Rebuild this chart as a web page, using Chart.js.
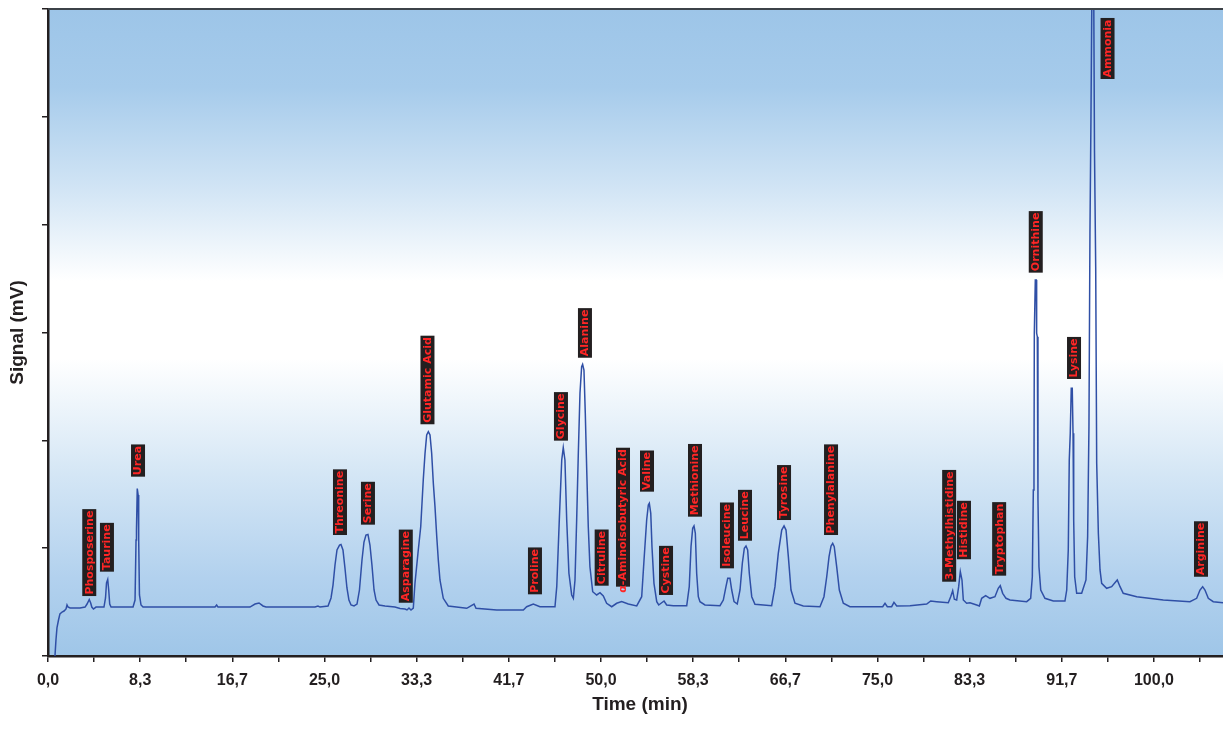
<!DOCTYPE html>
<html>
<head>
<meta charset="utf-8">
<script src="https://cdn.jsdelivr.net/npm/chart.js@4.4.1/dist/chart.umd.min.js"></script>
<style>
html,body{margin:0;padding:0;background:#ffffff;}
#wrap{width:1223px;height:742px;}
</style>
</head>
<body>
<div id="wrap"><canvas id="c" width="1223" height="742"></canvas></div>
<script>
// Retention time (min) and detector signal (arbitrary mV units)
const timeMin = [0.63,0.72,0.81,0.95,1.08,1.27,1.45,1.63,1.72,1.81,2.0,2.89,3.35,3.53,3.73,3.86,3.96,4.11,4.34,5.06,5.2,5.29,5.4,5.49,5.58,5.7,7.69,7.87,7.96,8.0,8.07,8.15,8.2,8.27,8.41,8.59,15.1,15.25,15.37,18.26,18.72,19.08,19.44,19.71,24.14,24.41,24.6,25.32,25.59,25.77,25.95,26.13,26.36,26.49,26.67,26.85,27.03,27.21,27.4,27.67,27.94,28.16,28.39,28.57,28.75,28.93,29.11,29.29,29.48,29.66,29.93,30.47,31.37,31.83,32.28,32.46,32.64,32.82,33.03,33.18,33.48,33.7,33.93,34.09,34.24,34.39,34.54,34.69,34.84,34.99,35.15,35.29,35.44,35.74,36.19,37.86,38.52,38.7,40.57,42.98,43.28,43.88,44.48,45.84,46.0,46.23,46.45,46.59,46.74,46.9,47.1,47.35,47.5,47.65,47.8,47.95,48.1,48.25,48.34,48.46,48.58,48.71,48.85,49.0,49.25,49.61,49.91,50.21,50.51,50.97,51.42,51.87,52.47,53.23,53.68,53.89,54.13,54.28,54.37,54.5,54.61,54.79,55.04,55.22,55.7,55.94,56.54,57.75,57.98,58.14,58.29,58.41,58.53,58.65,58.8,58.95,59.4,60.76,61.06,61.3,61.46,61.66,61.82,62.03,62.32,62.57,62.78,62.96,63.11,63.26,63.41,63.63,63.92,65.43,65.73,66.03,66.34,66.55,66.73,66.94,67.18,67.54,68.29,69.8,70.16,70.41,70.62,70.8,70.95,71.09,71.31,71.55,71.91,72.51,75.47,75.68,75.89,76.28,76.49,76.74,77.94,79.45,79.81,80.35,81.4,81.62,81.8,81.95,82.16,82.34,82.49,82.64,82.76,83.06,83.36,83.97,84.21,84.42,84.78,85.17,85.62,85.92,86.1,86.32,86.62,86.98,88.49,88.85,89.0,89.09,89.15,89.18,89.27,89.36,89.39,89.45,89.51,89.6,89.76,90.14,90.9,91.95,92.11,92.25,92.34,92.43,92.52,92.61,92.68,92.74,92.83,93.01,93.46,93.85,94.0,94.12,94.21,94.3,94.42,94.53,94.62,94.73,94.82,94.97,95.12,95.27,95.72,96.17,96.68,96.93,97.22,98.44,100.84,103.25,103.86,104.16,104.4,104.61,104.91,105.36,106.24];
const signal = [0,14.8,26,33.4,39,40.8,41.7,43.6,47.3,45.4,44.5,44.5,45.4,48.2,52.4,49.2,45.4,43.6,45.4,45.4,53.8,67.7,70.9,61.2,48.2,45.4,45.4,51.9,107.6,116.8,155.3,149.3,107.6,56.6,47.3,45.4,45.4,47.3,45.4,45.4,48.2,49.2,46.4,45.4,45.4,46.4,45.4,46.4,53.8,65.8,84.4,98.3,102.9,103.4,98.3,81.6,63.1,51.9,47.3,46.4,48.2,61.2,89,105.7,112.2,112.7,102.9,84.4,61.2,51.9,47.3,46.4,45.4,44,43.6,42.7,44.5,42.7,44.5,67.4,98.3,119.9,163.2,188,205,208,205,188,160.2,138.5,110.6,89,70.5,53.5,46.4,44.2,48.2,44.2,42.7,42.7,45.7,48.2,45.7,45.7,64.3,126.1,181.8,193.2,181.8,126.1,76.7,56.6,53.5,70.5,126.1,188,243.6,268.3,270.5,265.2,225.1,172.5,119.9,82.8,59.6,56.6,58.7,55.6,48.9,45.7,48.9,50.4,48.2,46.4,55,89,126.1,140,141.6,132.3,101.4,67.4,50.4,47.3,51,47.3,46.6,46.6,64.3,101.4,118.4,120.6,113.8,76.7,55,50.4,47.3,46.6,51.9,64.3,72,72,61.2,50.4,48.2,61.2,86,99.9,102,98.3,76.7,55,47.9,46.6,64.3,95.2,116.8,120.6,116.8,92.1,61.2,48.9,46.4,45.7,55,73.5,92.1,102,104.5,101.4,82.8,61.2,48.9,45.7,45.7,48.9,45.7,45.7,49.8,46.4,46.6,48.2,51,50.4,49.4,55,60.6,52.6,51.9,64.3,78.2,70.5,51.9,48.9,49.4,47.3,46.4,53.5,55.9,53.5,55,62.8,65.2,58.1,53.5,51.9,50.4,53.5,73.5,154,160.2,299.3,348.7,348.7,299.3,296.1,144.7,82.8,61.2,53.5,51,51,61.2,98.3,181.8,206.5,248.3,248.3,206.5,126.1,73.5,58.1,58.1,70.5,110.6,212.7,392,497,664,664,469,361,178.7,113.8,79.8,67.4,62.8,64.3,70.5,64.3,58.1,55,51.9,50.4,53.5,61.2,64.3,61.2,53.5,50.4,49.4];

// Peak labels: name, retention time of label, signal level at label base
const peakNames = ["Phosposerine","Taurine","Urea","Threonine","Serine","Asparagine","Glutamic Acid","Proline","Glycine","Alanine","Citruline","α-Aminoisobutyric Acid","Valine","Cystine","Methionine","Isoleucine","Leucine","Tyrosine","Phenylalanine","3-Methylhistidine","Histidine","Tryptophan","Ornithine","Lysine","Ammonia","Arginine"];
const labelTimes = [3.73,5.33,8.14,26.4,28.93,32.35,34.31,44.03,46.38,48.55,50.06,51.99,54.16,55.88,58.5,61.39,63.02,66.55,70.8,81.48,82.82,86.0,89.31,92.77,95.8,104.25];
const labelValues = [55.6,78.2,166.3,112.2,121.8,49.4,214.9,57.2,199.7,276.6,65.2,64.3,152.4,56.6,129.2,81.3,106.9,126.1,112.2,68.9,89.7,74.5,355.5,256.9,535.1,73.5];

// Axis tick labels (every 8.33 min; unlabeled minor ticks in between)
const xTickLabels = ["0,0","8,3","16,7","25,0","33,3","41,7","50,0","58,3","66,7","75,0","83,3","91,7","100,0"];
const yTickValues = [0,100,200,300,400,500,600];
const xTitle = "Time (min)";
const yTitle = "Signal (mV)";

const points = timeMin.map((t,i)=>({x:t,y:signal[i]}));

const bgPlugin = {
  id:'bg',
  beforeDraw(chart){
    const {ctx, chartArea:a} = chart;
    const g = ctx.createLinearGradient(0,a.top,0,a.bottom);
    g.addColorStop(0,'#9dc5e8');
    g.addColorStop(0.12,'#a6cbeb');
    g.addColorStop(0.28,'#d2e5f5');
    g.addColorStop(0.42,'#ffffff');
    g.addColorStop(0.54,'#ffffff');
    g.addColorStop(0.72,'#d4e6f5');
    g.addColorStop(0.88,'#b2d1ee');
    g.addColorStop(1,'#9fc6e8');
    ctx.save();
    ctx.fillStyle = g;
    ctx.fillRect(a.left,a.top,a.right-a.left,a.bottom-a.top);
    ctx.restore();
  },
  afterDraw(chart){
    const {ctx, chartArea:a} = chart;
    ctx.save();
    ctx.strokeStyle = '#3c4248';
    ctx.lineWidth = 2;
    ctx.beginPath();
    ctx.moveTo(a.left, a.top);
    ctx.lineTo(chart.width, a.top);
    ctx.stroke();
    ctx.fillStyle = '#231f20';
    ctx.font = 'bold 19px "Liberation Sans", Arial, sans-serif';
    ctx.textAlign = 'center';
    ctx.textBaseline = 'middle';
    ctx.fillText(xTitle, 640, 705);
    ctx.translate(18, (a.top+a.bottom)/2);
    ctx.rotate(-Math.PI/2);
    ctx.fillText(yTitle, 0, 0);
    ctx.restore();
  }
};

const labelPlugin = {
  id:'peakLabels',
  afterDatasetsDraw(chart){
    const {ctx} = chart;
    const xs = chart.scales.x, ys = chart.scales.y;
    ctx.save();
    ctx.font = 'bold 11px "DejaVu Sans", Verdana, sans-serif';
    ctx.textBaseline = 'middle';
    ctx.textAlign = 'left';
    peakNames.forEach((name,i)=>{
      const px = xs.getPixelForValue(labelTimes[i]);
      const py = ys.getPixelForValue(labelValues[i]);
      const isGreek = name.startsWith('α');
      const boxText = isGreek ? name.slice(1) : name;
      const pre = isGreek ? ctx.measureText('α').width : 0;
      const w = ctx.measureText(boxText).width + 3;
      ctx.save();
      ctx.translate(px, py);
      ctx.rotate(-Math.PI/2);
      ctx.fillStyle = '#231f20';
      ctx.fillRect(0,-7,w,14);
      ctx.fillStyle = '#ff2626';
      ctx.fillText(name, 1.5 - pre, 0.5);
      ctx.restore();
    });
    ctx.restore();
  }
};

new Chart(document.getElementById('c'), {
  type:'line',
  data:{datasets:[{
    data: points,
    borderColor:'#2f4fa6',
    borderWidth:1.5,
    pointRadius:0,
    tension:0,
    fill:false
  }]},
  options:{
    responsive:false,
    animation:false,
    parsing:true,
    layout:{padding:{left:0,top:9,right:0,bottom:0}},
    plugins:{legend:{display:false},tooltip:{enabled:false}},
    scales:{
      x:{
        type:'linear',
        min:0,
        max:106.24,
        afterBuildTicks(scale){
          const t=[];
          for(let k=0;k<=2*(xTickLabels.length-1)+1;k++){ t.push({value:k*100/24}); }
          scale.ticks = t;
        },
        afterFit(scale){ scale.height = 86; },
        ticks:{
          autoSkip:false,
          maxRotation:0,
          minRotation:0,
          padding:9,
          color:'#231f20',
          font:{family:'"Liberation Sans", Arial, sans-serif',size:16,weight:'bold'},
          callback(v,idx){ return idx%2===0 ? (xTickLabels[idx/2]||'') : ''; }
        },
        grid:{drawOnChartArea:false,drawTicks:true,tickLength:6,color:'#231f20',lineWidth:1.5},
        border:{display:true,color:'#231f20',width:2.5}
      },
      y:{
        type:'linear',
        min:0,
        max:600,
        afterBuildTicks(scale){ scale.ticks = yTickValues.map(v=>({value:v})); },
        afterFit(scale){ scale.width = 48; },
        ticks:{ callback(){ return ''; }, padding:0 },
        grid:{drawOnChartArea:false,drawTicks:true,tickLength:6,color:'#231f20',lineWidth:1.5},
        border:{display:true,color:'#231f20',width:2.5}
      }
    }
  },
  plugins:[bgPlugin,labelPlugin]
});
</script>
</body>
</html>
